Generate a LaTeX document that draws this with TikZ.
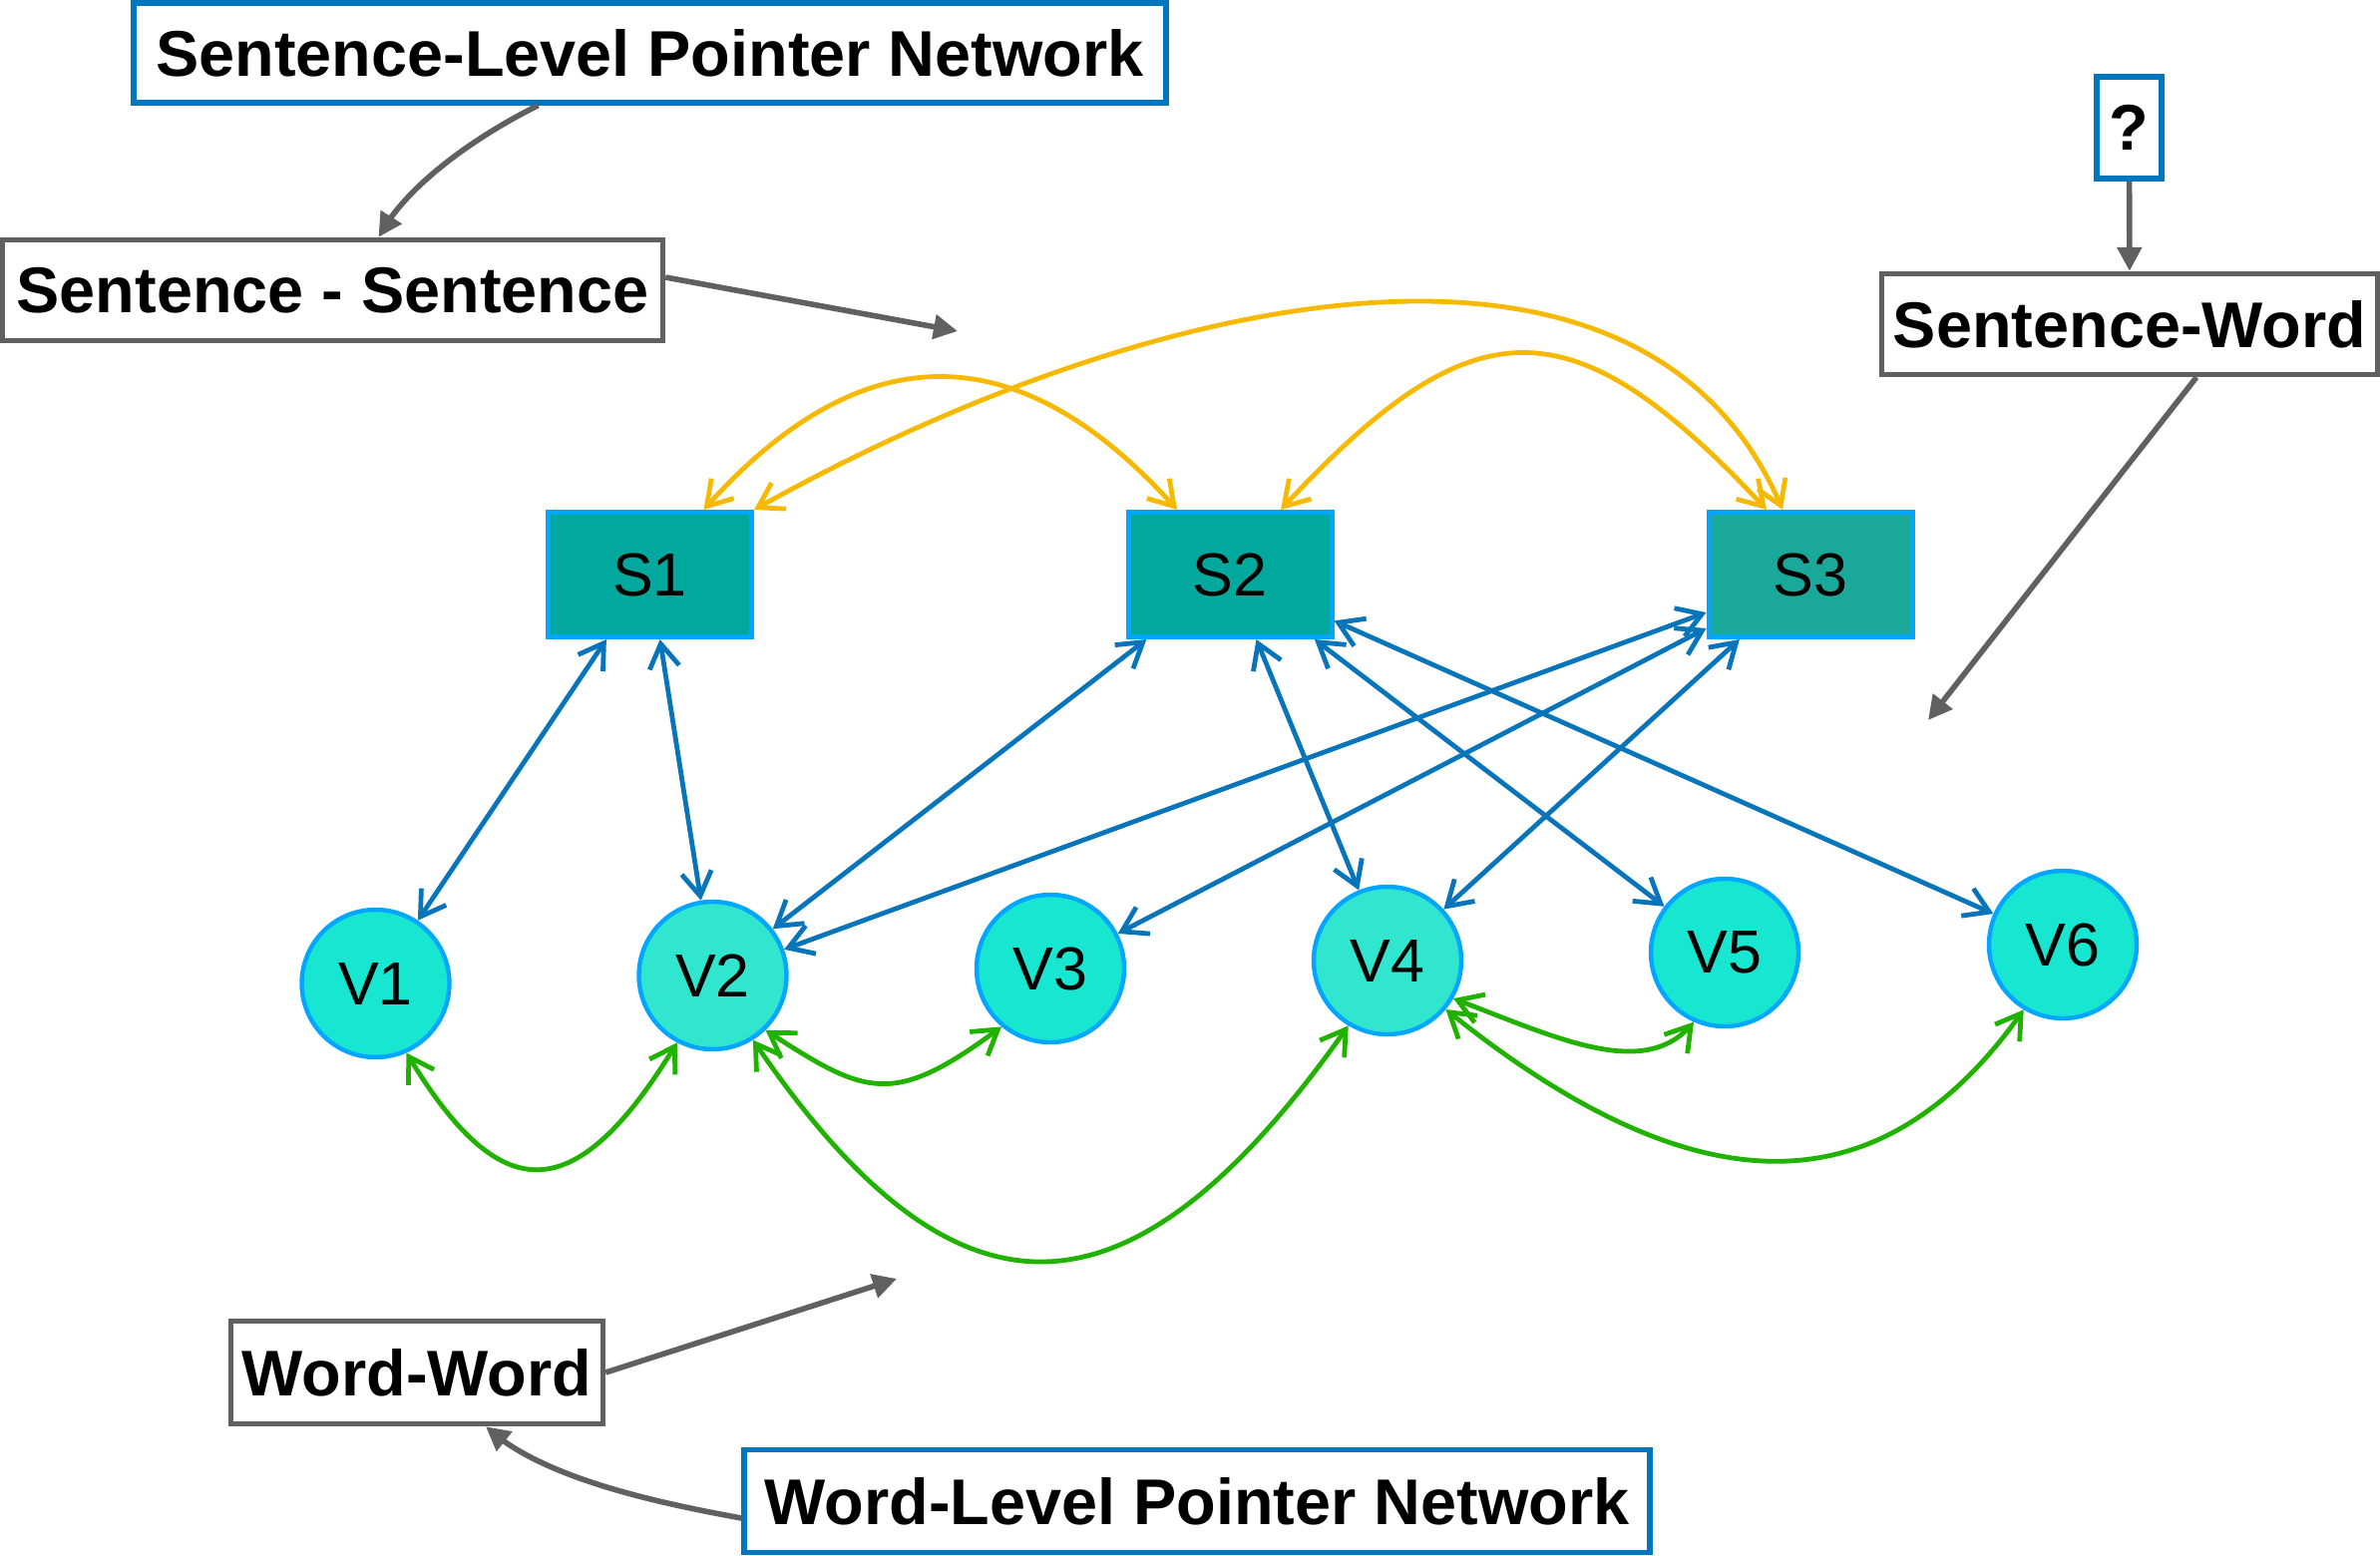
\documentclass[tikz,border=0pt]{standalone}
\usepackage{fontspec}
\setmainfont{Liberation Sans}
\usetikzlibrary{arrows.meta,bending}

\definecolor{boxblue}{RGB}{0,118,190}
\definecolor{boxgray}{RGB}{96,96,96}
\definecolor{sfill}{RGB}{0,168,157}
\definecolor{sfillb}{RGB}{26,168,155}
\definecolor{vfill}{RGB}{23,230,208}
\definecolor{vfillb}{RGB}{48,230,206}
\definecolor{rim}{RGB}{0,166,255}
\definecolor{linkblue}{RGB}{8,116,186}
\definecolor{linkyellow}{RGB}{247,185,0}
\definecolor{linkgreen}{RGB}{33,178,0}

\begin{document}
\begin{tikzpicture}[x=0.5pt,y=-0.5pt,
  tagbox/.style={draw, line width=2.7pt, fill=white, inner sep=0pt,
    font=\bfseries\fontsize{32.4}{38}\selectfont},
  netbox/.style={tagbox, draw=boxblue},
  kindbox/.style={tagbox, draw=boxgray},
  sent/.style={draw=rim, line width=2.5pt, fill=sfill, minimum width=102pt,
    minimum height=62.5pt, inner sep=0pt, font=\fontsize{30.5}{36}\selectfont},
  word/.style={circle, draw=rim, line width=2.2pt, fill=vfill, minimum size=74pt,
    inner sep=0pt, font=\fontsize{30.5}{36}\selectfont},
  pointer/.style={line width=2.8pt, draw=boxgray, -{Triangle[length=12pt,width=12pt]}},
  link/.style={line width=2.4pt,
    {Straight Barb[length=12pt,width=15pt]}-{Straight Barb[length=12pt,width=15pt]}},
  sslink/.style={link, draw=linkyellow},
  swlink/.style={link, draw=linkblue},
  wwlink/.style={link, draw=linkgreen},
]
\useasboundingbox (0,0) rectangle (2386,1559);

% labels and network names
\node[netbox, minimum width=517.5pt, minimum height=50pt] (slpn) at (651.5,53) {Sentence-Level Pointer Network};
\node[kindbox, minimum width=331pt, minimum height=50.5pt] (ss) at (333.5,291) {Sentence - Sentence};
\node[netbox, minimum width=32.5pt, minimum height=51pt] (q) at (2134.5,128) {?};
\node[kindbox, minimum width=248.5pt, minimum height=50.5pt] (sw) at (2135,325) {Sentence-Word};
\node[kindbox, minimum width=186.5pt, minimum height=51.5pt] (ww) at (418,1376) {Word-Word};
\node[netbox, minimum width=454pt, minimum height=51.5pt] (wlpn) at (1200,1505) {Word-Level Pointer Network};

% sentence nodes
\node[sent] (S1) at (651.5,576) {S1};
\node[sent] (S2) at (1233,576) {S2};
\node[sent, fill=sfillb] (S3) at (1815,576) {S3};

% word nodes
\node[word] (V1) at (376.5,986) {V1};
\node[word, fill=vfillb] (V2) at (714.5,978) {V2};
\node[word] (V3) at (1053,971) {V3};
\node[word, fill=vfillb] (V4) at (1391,963) {V4};
\node[word] (V5) at (1729,955) {V5};
\node[word] (V6) at (2068,947) {V6};

% sentence-sentence links
\draw[sslink] ([shift={(54,0)}]S1.north) .. controls (863,333) and (1022,333) .. ([shift={(-53,0)}]S2.north);
\draw[sslink] ([shift={(51,0)}]S2.north) .. controls (1478,301) and (1576,301) .. ([shift={(-44,0)}]S3.north);
\draw[sslink] (S1.north east) .. controls (1150,290) and (1650,180) .. ([shift={(-28,0)}]S3.north);

% sentence-word links
\draw[swlink] (S1) -- (V1);
\draw[swlink] (S1) -- (V2);
\draw[swlink] (S2) -- (V2);
\draw[swlink] (S2) -- (V4);
\draw[swlink] (S2) -- (V5);
\draw[swlink] (S2) -- (V6);
\draw[swlink] (S3) -- (V2);
\draw[swlink] (S3) -- (V3);
\draw[swlink] (S3) -- (V4);

% word-word links
\draw[wwlink] (V1.-66) .. controls (496,1203) and (571,1224) .. (V2.-118);
\draw[wwlink] (V2.-46) .. controls (868,1098) and (894,1112) .. (V3.-130);
\draw[wwlink] (V2.-58) .. controls (956,1340) and (1131,1343) .. (V4.-121);
\draw[wwlink] (V4.-30) .. controls (1560,1040) and (1650,1085) .. (V5.-114);
\draw[wwlink] (V4.-40) .. controls (1704,1218) and (1889,1212) .. (V6.-121);

% annotation pointers
\coordinate (c1) at (960,332);
\coordinate (c2) at (1933,722);
\coordinate (c3) at (899,1282);
\draw[pointer] ([shift={(-112,0)}]slpn.south) .. controls (490,130) and (410,180) .. ([shift={(46,0)}]ss.north);
\draw[pointer] ([shift={(0,-13)}]ss.east) -- (c1);
\draw[pointer] (q) -- (sw);
\draw[pointer] ([shift={(67,0)}]sw.south) -- (c2);
\draw[pointer] (ww.east) -- (c3);
\draw[pointer] ([shift={(0,17)}]wlpn.west) .. controls (650,1505) and (540,1480) .. ([shift={(69,0)}]ww.south);
\end{tikzpicture}
\end{document}
